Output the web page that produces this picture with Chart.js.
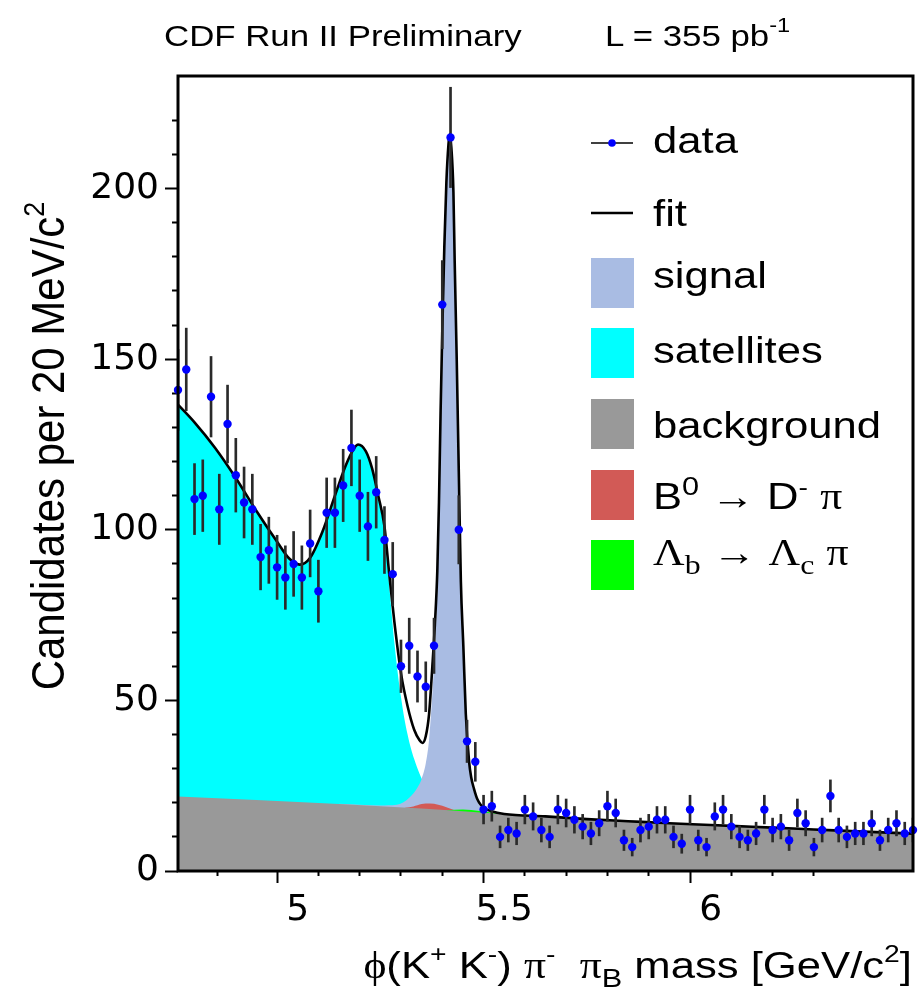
<!DOCTYPE html>
<html>
<head>
<meta charset="utf-8">
<script src="https://cdn.jsdelivr.net/npm/chart.js@4.4.1/dist/chart.umd.min.js"></script>
<style>
  body { margin: 0; background: #fff; }
  #wrap { position: relative; width: 919px; height: 996px; }
  #c { position: absolute; left: 0; top: 0; }
  #txt { position: absolute; left: 0; top: 0; pointer-events: none; }
  #txt text { font-family: "Liberation Sans", Arial, sans-serif; fill: #000; }
  #txt .greek { font-family: "Liberation Serif", "DejaVu Serif", serif; }
</style>
</head>
<body>
<div id="wrap">
<canvas id="c" width="919" height="996"></canvas>
<svg id="txt" width="919" height="996" xmlns="http://www.w3.org/2000/svg">
  <!-- header -->
  <g transform="translate(164,46) scale(1.18,1)"><text font-size="29.5">CDF Run II Preliminary</text></g>
  <g transform="translate(605,46) scale(1.18,1)"><text font-size="29.5">L = 355 pb<tspan font-size="20" dy="-14">-1</tspan></text></g>

  <!-- axis titles -->
  <g transform="translate(64,446) scale(1.1,1) rotate(-90)"><text font-size="42" text-anchor="middle">Candidates per 20 MeV/c<tspan font-size="27" dy="-18">2</tspan></text></g>
  <g transform="translate(912,978) scale(1.18,1)"><text font-size="37" text-anchor="end"><tspan class="greek">&#x3D5;</tspan>(K<tspan font-size="24" dy="-16">+</tspan><tspan dy="16">&#160;K</tspan><tspan font-size="24" dy="-16">-</tspan><tspan dy="16">)&#160;</tspan><tspan class="greek">&#x3C0;</tspan><tspan font-size="24" dy="-16">-</tspan><tspan dy="16">&#160;&#160;</tspan><tspan class="greek">&#x3C0;</tspan><tspan font-size="26" dy="9">B</tspan><tspan dy="-9">&#160;mass [GeV/c</tspan><tspan font-size="24" dy="-16">2</tspan><tspan dy="16">]</tspan></text></g>

  <!-- legend -->
  <line x1="591" y1="143" x2="633" y2="143" stroke="#000" stroke-width="1.5"/>
  <circle cx="612" cy="143" r="3.8" fill="#0000ff"/>
  <g transform="translate(653,153) scale(1.18,1)"><text font-size="37">data</text></g>

  <line x1="591" y1="213" x2="633" y2="213" stroke="#000" stroke-width="2.5"/>
  <g transform="translate(653,226) scale(1.18,1)"><text font-size="37">fit</text></g>

  <rect x="591" y="258" width="43" height="50" fill="#a9bce3"/>
  <g transform="translate(653,288) scale(1.18,1)"><text font-size="37">signal</text></g>

  <rect x="591" y="328" width="43" height="50" fill="#00ffff"/>
  <g transform="translate(653,363) scale(1.18,1)"><text font-size="37">satellites</text></g>

  <rect x="591" y="399" width="43" height="50" fill="#999999"/>
  <g transform="translate(653,438) scale(1.18,1)"><text font-size="37">background</text></g>

  <rect x="591" y="470" width="43" height="50" fill="#d25a56"/>
  <g transform="translate(653,509) scale(1.18,1)"><text font-size="37">B<tspan font-size="26" dy="-14">0</tspan><tspan dy="14">&#160;&#8594; D</tspan><tspan font-size="24" dy="-14">-</tspan><tspan dy="14">&#160;</tspan><tspan class="greek">&#x3C0;</tspan></text></g>

  <rect x="591" y="540" width="43" height="50" fill="#00ff00"/>
  <g transform="translate(653,565) scale(1.18,1)"><text font-size="37"><tspan class="greek">&#x39B;</tspan><tspan class="greek" font-size="27" dy="9">b</tspan><tspan dy="-9">&#160;&#8594;&#160;</tspan><tspan class="greek">&#x39B;</tspan><tspan class="greek" font-size="27" dy="9">c</tspan><tspan dy="-9">&#160;</tspan><tspan class="greek">&#x3C0;</tspan></text></g>
</svg>
</div>
<script>
// histogram: bin centres [GeV/c^2], candidates per 20 MeV, statistical errors
const massBins = [
  4.71, 4.73, 4.75, 4.77, 4.79, 4.81, 4.83, 4.85, 4.87, 4.89,
  4.91, 4.93, 4.95, 4.97, 4.99, 5.01, 5.03, 5.05, 5.07, 5.09,
  5.11, 5.13, 5.15, 5.17, 5.19, 5.21, 5.23, 5.25, 5.27, 5.29,
  5.31, 5.33, 5.35, 5.37, 5.39, 5.41, 5.43, 5.45, 5.47, 5.49,
  5.51, 5.53, 5.55, 5.57, 5.59, 5.61, 5.63, 5.65, 5.67, 5.69,
  5.71, 5.73, 5.75, 5.77, 5.79, 5.81, 5.83, 5.85, 5.87, 5.89,
  5.91, 5.93, 5.95, 5.97, 5.99, 6.01, 6.03, 6.05, 6.07, 6.09,
  6.11, 6.13, 6.15, 6.17, 6.19, 6.21, 6.23, 6.25, 6.27, 6.29,
  6.31, 6.33, 6.35, 6.37, 6.39, 6.41, 6.43, 6.45, 6.47, 6.49
];
const counts = [
  141, 147, 109, 110, 139, 106, 131, 116, 108, 106,
  92, 94, 89, 86, 90, 86, 96, 82, 105, 105,
  113, 124, 110, 101, 111, 97, 87, 60, 66, 57,
  54, 66, 166, 215, 100, 38, 32, 18, 19, 10,
  12, 11, 18, 16, 12, 10, 18, 17, 15, 13,
  11, 14, 19, 17, 9, 7, 12, 13, 15, 15,
  10, 8, 18, 9, 7, 16, 18, 13, 10, 9,
  11, 18, 12, 13, 9, 17, 14, 7, 12, 22,
  12, 10, 11, 11, 14, 9, 12, 14, 11, 12
];
const errors = [
  11.9, 12.1, 10.4, 10.5, 11.8, 10.3, 11.4, 10.8, 10.4, 10.3,
  9.6, 9.7, 9.4, 9.3, 9.5, 9.3, 9.8, 9.1, 10.2, 10.2,
  10.6, 11.1, 10.5, 10.0, 10.5, 9.8, 9.3, 7.7, 8.1, 7.5,
  7.3, 8.1, 12.9, 14.7, 10.0, 6.2, 5.7, 4.2, 4.4, 3.2,
  3.5, 3.3, 4.2, 4.0, 3.5, 3.2, 4.2, 4.1, 3.9, 3.6,
  3.3, 3.7, 4.4, 4.1, 3.0, 2.6, 3.5, 3.6, 3.9, 3.9,
  3.2, 2.8, 4.2, 3.0, 2.6, 4.0, 4.2, 3.6, 3.2, 3.0,
  3.3, 4.2, 3.5, 3.6, 3.0, 4.1, 3.7, 2.6, 3.5, 4.7,
  3.5, 3.2, 3.3, 3.3, 3.7, 3.0, 3.5, 3.7, 3.3, 3.5
];

// total fit
const fitX = [4.71, 4.75, 4.80, 4.85, 4.90, 4.95, 4.98, 5.005, 5.03, 5.06,
  5.09, 5.115, 5.13, 5.146, 5.165, 5.18, 5.195, 5.21, 5.222, 5.234,
  5.25, 5.266, 5.282, 5.295, 5.302, 5.31, 5.318, 5.326, 5.332, 5.338,
  5.342, 5.346, 5.35, 5.355, 5.36, 5.365, 5.368, 5.372, 5.377, 5.38,
  5.385, 5.39, 5.395, 5.401, 5.407, 5.415, 5.42, 5.427, 5.435, 5.443,
  5.455, 5.467, 5.50, 5.60, 5.70, 5.80, 5.90, 6.00, 6.10, 6.20,
  6.30, 6.40, 6.49];
const fitY = [136.7, 131.5, 124, 115.2, 105.5, 96.5, 91.5, 89.8, 91.8, 99.5,
  110, 118.5, 122.5, 125, 123, 118, 110, 101, 86.5, 73,
  58, 48.3, 41.4, 38.3, 37.5, 39.5, 46, 60, 72, 88,
  108, 135, 158, 183, 202, 213, 216, 212, 199, 179,
  150, 117, 85, 66, 46, 32, 27.5, 24, 21, 19.4,
  18.2, 17.6, 16.7, 16.0, 15.2, 14.6, 14.0, 13.5, 12.95, 12.45,
  11.9, 11.4, 10.95];

// upper edges of the filled components (each drawn above the background)
const satX = [4.71, 4.75, 4.80, 4.85, 4.90, 4.95, 4.98, 5.005, 5.03, 5.06,
  5.09, 5.115, 5.13, 5.146, 5.165, 5.18, 5.195, 5.21, 5.222, 5.234,
  5.25, 5.266, 5.282, 5.295, 5.305, 5.32, 5.35, 5.40, 5.45];
const satY = [136.7, 131.5, 124, 115.2, 105.5, 96.5, 91.5, 89.8, 91.8, 99.5,
  110, 118.5, 122.5, 125, 123, 117.5, 109, 99, 83, 67,
  51, 40, 32.8, 28.5, 25.8, 21.5, 18.6, 17.6, 17.1];

const sigX = [5.10, 5.20, 5.24, 5.27, 5.29, 5.30, 5.31, 5.318, 5.326, 5.332,
  5.338, 5.342, 5.346, 5.35, 5.355, 5.36, 5.365, 5.368, 5.372, 5.377,
  5.38, 5.385, 5.39, 5.395, 5.401, 5.407, 5.415, 5.42, 5.427, 5.435,
  5.443, 5.455, 5.47, 5.50, 5.60];
const sigY = [19.7, 19.2, 19.4, 21.5, 24.5, 27, 31.5, 38.5, 52, 65,
  82, 102, 130, 154, 180, 199, 210.5, 214, 210, 197,
  177, 148, 115, 83.5, 64.5, 45, 31, 26.5, 23, 20.2,
  18.8, 17.7, 17.1, 16.5, 15.6];

const bkgX = [4.71, 4.9, 5.1, 5.3, 5.45, 5.6, 5.8, 6.0, 6.2, 6.49];
const bkgY = [21.8, 20.8, 19.6, 18.3, 17.1, 15.9, 14.5, 13.4, 12.4, 10.9];

const b0X = [5.26, 5.28, 5.30, 5.32, 5.34, 5.36, 5.38];
const b0Y = [18.55, 18.9, 19.6, 19.75, 19.4, 18.7, 17.8];

const lbX = [5.36, 5.40, 5.44, 5.48, 5.52];
const lbY = [17.8, 18.0, 17.6, 17.0, 16.45];

// axis labels
const xTickValues = [5, 5.5, 6];
const xTickLabels = ['5', '5.5', '6'];
const yTickValues = [0, 50, 100, 150, 200];
const yTickLabels = ['0', '50', '100', '150', '200'];

const colors = {
  data: '#0000ff', errBar: '#2a2a2a', fit: '#000000',
  signal: '#a9bce3', satellites: '#00ffff', background: '#999999',
  b0: '#d25a56', lambdaB: '#00ff00'
};

function pairs(xs, ys) { return xs.map((x, i) => ({ x: x, y: ys[i] })); }
function onStep(v, step) { const r = v / step; return Math.abs(r - Math.round(r)) < 1e-6; }
function lookup(vals, labels, v) {
  const i = vals.findIndex(t => Math.abs(t - v) < 1e-6);
  return i < 0 ? '' : labels[i];
}

function area(label, xs, ys, color, order) {
  return {
    type: 'line', label: label, data: pairs(xs, ys), order: order,
    showLine: true, borderWidth: 0, borderColor: color, backgroundColor: color,
    pointRadius: 0, fill: 'origin', cubicInterpolationMode: 'monotone'
  };
}

const framePlugin = {
  id: 'frame',
  afterDatasetsDraw(chart) {
    const { ctx, chartArea: a } = chart;
    ctx.save();
    ctx.strokeStyle = '#000';
    ctx.lineWidth = 3;
    ctx.strokeRect(a.left, a.top, a.right - a.left, a.bottom - a.top);
    ctx.restore();
  }
};

const tickFont = { family: 'DejaVu Sans', size: 36 };

new Chart(document.getElementById('c').getContext('2d'), {
  type: 'scatter',
  data: {
    datasets: [
      {
        type: 'scatter', label: 'data', data: pairs(massBins, counts), order: 0,
        pointRadius: 4.2, pointBackgroundColor: colors.data, pointBorderWidth: 0,
        showLine: false, clip: false
      },
      {
        type: 'bar', label: 'errors', order: 1,
        data: massBins.map((m, i) => ({ x: m, y: [counts[i] - errors[i], counts[i] + errors[i]] })),
        backgroundColor: colors.errBar, borderWidth: 0, barThickness: 2, grouped: false
      },
      {
        type: 'line', label: 'fit', data: pairs(fitX, fitY), order: 2,
        showLine: true, borderColor: colors.fit, borderWidth: 2.6, pointRadius: 0,
        fill: false, cubicInterpolationMode: 'monotone'
      },
      area('background', bkgX, bkgY, colors.background, 3),
      area('lambda_b', lbX, lbY, colors.lambdaB, 4),
      area('B0', b0X, b0Y, colors.b0, 5),
      area('signal', sigX, sigY, colors.signal, 6),
      area('satellites', satX, satY, colors.satellites, 7)
    ]
  },
  options: {
    responsive: false,
    animation: false,
    events: [],
    layout: { padding: { top: 76, right: 2, left: 0, bottom: 0 } },
    plugins: { legend: { display: false }, tooltip: { enabled: false } },
    scales: {
      x: {
        type: 'linear', min: 4.71, max: 6.49, offset: false,
        border: { display: false },
        grid: {
          drawOnChartArea: false, tickLength: 12, tickWidth: 2,
          tickColor: c => (c.tick && onStep(c.tick.value, 0.1)) ? '#000' : 'rgba(0,0,0,0)',
          tickBorderDash: c => (c.tick && onStep(c.tick.value, 0.5)) ? [] : [5, 100]
        },
        ticks: {
          stepSize: 0.1, autoSkip: false, maxRotation: 0, padding: 6, color: '#000', font: tickFont,
          callback: v => lookup(xTickValues, xTickLabels, v)
        },
        afterFit: s => { s.height = 125; }
      },
      y: {
        type: 'linear', min: 0, max: 233,
        border: { display: false },
        grid: {
          drawOnChartArea: false, tickLength: 13, tickWidth: 2,
          tickColor: c => (c.tick && onStep(c.tick.value, 10)) ? '#000' : 'rgba(0,0,0,0)',
          tickBorderDash: c => (c.tick && onStep(c.tick.value, 50)) ? [] : [0, 7, 6, 100]
        },
        ticks: {
          stepSize: 10, autoSkip: false, padding: 6, color: '#000', font: tickFont,
          callback: v => lookup(yTickValues, yTickLabels, v)
        },
        afterFit: s => { s.width = 178; }
      }
    }
  },
  plugins: [framePlugin]
});
</script>
</body>
</html>
